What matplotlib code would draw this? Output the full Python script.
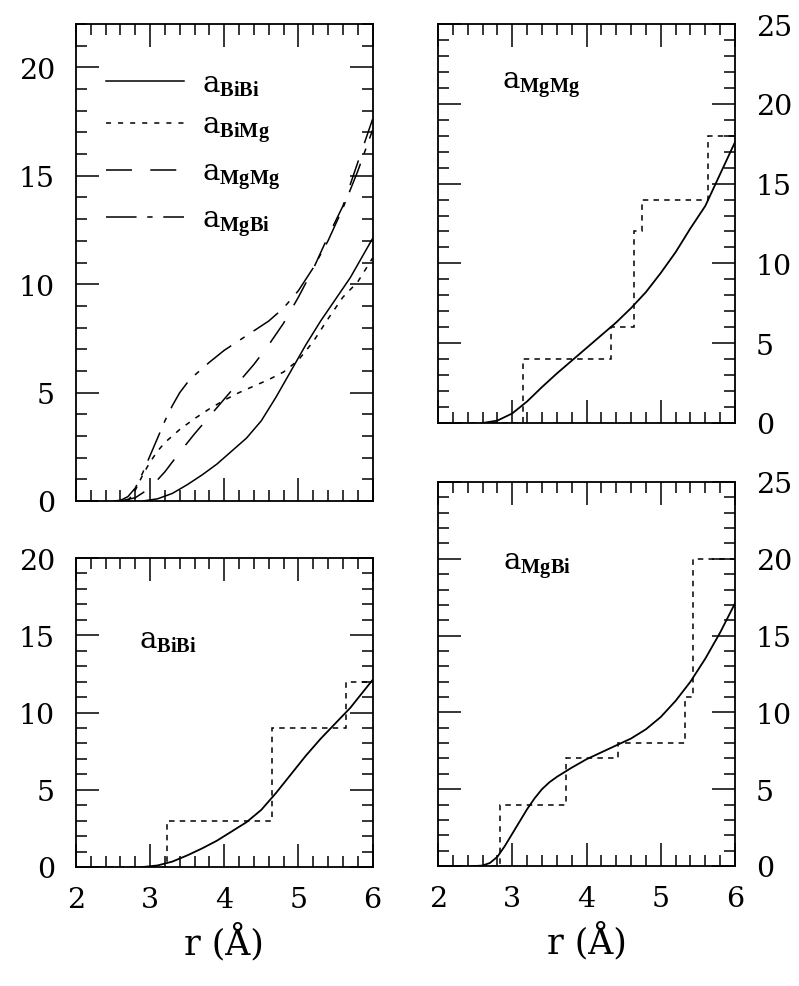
import numpy as np
import matplotlib
matplotlib.use("Agg")
import matplotlib.pyplot as plt
from matplotlib.ticker import MultipleLocator
from matplotlib.lines import Line2D

plt.rcParams['font.family'] = ['DejaVu Serif']
plt.rcParams['mathtext.fontset'] = 'custom'
plt.rcParams['mathtext.rm'] = 'DejaVu Serif'
plt.rcParams['mathtext.bf'] = 'Liberation Serif:bold'

# ---- data ----
r_bibi = [2.9, 3.1, 3.3, 3.5, 3.7, 3.9, 4.1, 4.3, 4.5, 4.7, 4.9, 5.1, 5.3, 5.5, 5.7, 5.9, 6.0]
a_bibi = [0.0, 0.1, 0.35, 0.75, 1.2, 1.7, 2.3, 2.9, 3.7, 4.8, 6.0, 7.2, 8.3, 9.3, 10.3, 11.5, 12.1]

r_bimg = [2.7, 2.8, 2.9, 3.0, 3.1, 3.2, 3.4, 3.6, 3.8, 4.0, 4.2, 4.4, 4.6, 4.8, 5.0, 5.2, 5.4, 5.6, 5.8, 6.0]
a_bimg = [0.0, 0.5, 1.2, 1.8, 2.3, 2.7, 3.3, 3.8, 4.25, 4.65, 5.0, 5.3, 5.6, 5.95, 6.5, 7.35, 8.4, 9.4, 10.1, 11.2]

r_mgmg = [2.6, 2.8, 3.0, 3.2, 3.4, 3.6, 3.8, 4.0, 4.2, 4.4, 4.6, 4.8, 5.0, 5.2, 5.4, 5.6, 5.8, 6.0]
a_mgmg = [0.0, 0.15, 0.6, 1.35, 2.25, 3.1, 3.9, 4.7, 5.5, 6.3, 7.2, 8.2, 9.4, 10.7, 12.2, 13.6, 15.6, 17.6]

r_mgbi = [2.5, 2.6, 2.7, 2.8, 2.9, 3.0, 3.1, 3.2, 3.3, 3.4, 3.5, 3.6, 3.8, 4.0, 4.2, 4.4,
          4.6, 4.8, 5.0, 5.2, 5.4, 5.6, 5.8, 6.0]
a_mgbi = [0.0, 0.03, 0.2, 0.6, 1.3, 2.1, 2.9, 3.7, 4.4, 5.0, 5.45, 5.8, 6.4, 6.95, 7.4, 7.85,
          8.3, 8.9, 9.7, 10.75, 12.0, 13.5, 15.2, 17.1]

# coordination-number steps (shell edges and cumulative counts)
edges_mgmg = [2.0, 3.145, 4.33, 4.64, 4.75, 5.64, 6.0]
count_mgmg = [0, 4, 6, 12, 14, 18]
edges_bibi = [2.0, 3.23, 4.64, 5.64, 6.0]
count_bibi = [0, 3, 9, 12]
edges_mgbi = [2.0, 2.83, 3.73, 4.43, 5.33, 5.43, 6.0]
count_mgbi = [0, 4, 7, 8, 11, 20]

labels = [r'a$_{\mathbf{BiBi}}$', r'a$_{\mathbf{BiMg}}$',
          r'a$_{\mathbf{MgMg}}$', r'a$_{\mathbf{MgBi}}$']

# ---- styles ----
LW = 1.1
st_solid = '-'
st_dot = (0, (3.3, 4.6))
st_long = (0, (17, 12))
st_dashdot = (0, (20, 7, 3.5, 7))
st_hist = (0, (3.6, 3.4))

W, H = 799, 987
fig = plt.figure(figsize=(W / 100, H / 100), dpi=100)


def rect(x0, x1, y0, y1):
    return [x0 / W, 1 - y1 / H, (x1 - x0) / W, (y1 - y0) / H]


def style(ax, ymax, right=False, xlabels=False):
    ax.set_xlim(2, 6)
    ax.set_ylim(0, ymax)
    ax.xaxis.set_major_locator(MultipleLocator(1))
    ax.xaxis.set_minor_locator(MultipleLocator(0.2))
    ax.yaxis.set_major_locator(MultipleLocator(5))
    ax.yaxis.set_minor_locator(MultipleLocator(1))
    ax.tick_params(which='both', direction='in', top=True, right=True,
                   width=1.1, labelsize=20.5)
    ax.tick_params(which='major', length=16.5)
    ax.tick_params(which='minor', length=8)
    ax.tick_params(axis='y', pad=15)
    ax.tick_params(axis='x', pad=14)
    if right:
        ax.tick_params(axis='y', labelleft=False, labelright=True)
    if not xlabels:
        ax.tick_params(axis='x', labelbottom=False)
    else:
        ax.set_xlabel('r (Å)', fontsize=25, labelpad=6)
    for s in ax.spines.values():
        s.set_linewidth(1.3)


# top-left: all four curves
ax1 = fig.add_axes(rect(76, 372.5, 25, 502))
style(ax1, 22)
ax1.plot(r_bibi, a_bibi, color='k', lw=LW, ls=st_solid)
ax1.plot(r_bimg, a_bimg, color='k', lw=LW, ls=st_dot)
ax1.plot(r_mgmg, a_mgmg, color='k', lw=LW, ls=st_long)
ax1.plot(r_mgbi, a_mgbi, color='k', lw=LW, ls=st_dashdot)
handles = [Line2D([], [], color='k', lw=LW, ls=s)
           for s in (st_solid, st_dot, st_long, st_dashdot)]
ax1.legend(handles, labels, loc='upper left', bbox_to_anchor=(0.1, 0.905),
           frameon=False, fontsize=21, handlelength=2.7, handletextpad=0.6,
           labelspacing=0.45, borderpad=0, borderaxespad=0)

# top-right: MgMg
ax2 = fig.add_axes(rect(438, 735, 25, 424))
style(ax2, 25, right=True)
ax2.stairs(count_mgmg, edges_mgmg, baseline=None, color='k', lw=LW, ls=st_hist)
ax2.plot(r_mgmg, a_mgmg, color='k', lw=1.3)
ax2.text(2.86, 21.0, labels[2], fontsize=21, va='baseline')

# bottom-left: BiBi
ax3 = fig.add_axes(rect(76, 372.5, 559, 868))
style(ax3, 20, xlabels=True)
ax3.stairs(count_bibi, edges_bibi, baseline=None, color='k', lw=LW, ls=st_hist)
ax3.plot(r_bibi, a_bibi, color='k', lw=1.3)
ax3.text(2.85, 14.2, labels[0], fontsize=21, va='baseline')

# bottom-right: MgBi
ax4 = fig.add_axes(rect(438, 735, 483, 867))
style(ax4, 25, right=True, xlabels=True)
ax4.stairs(count_mgbi, edges_mgbi, baseline=None, color='k', lw=LW, ls=st_hist)
ax4.plot(r_mgbi, a_mgbi, color='k', lw=1.3)
ax4.text(2.87, 19.3, labels[3], fontsize=21, va='baseline')

fig.savefig('out.png', dpi=100)
